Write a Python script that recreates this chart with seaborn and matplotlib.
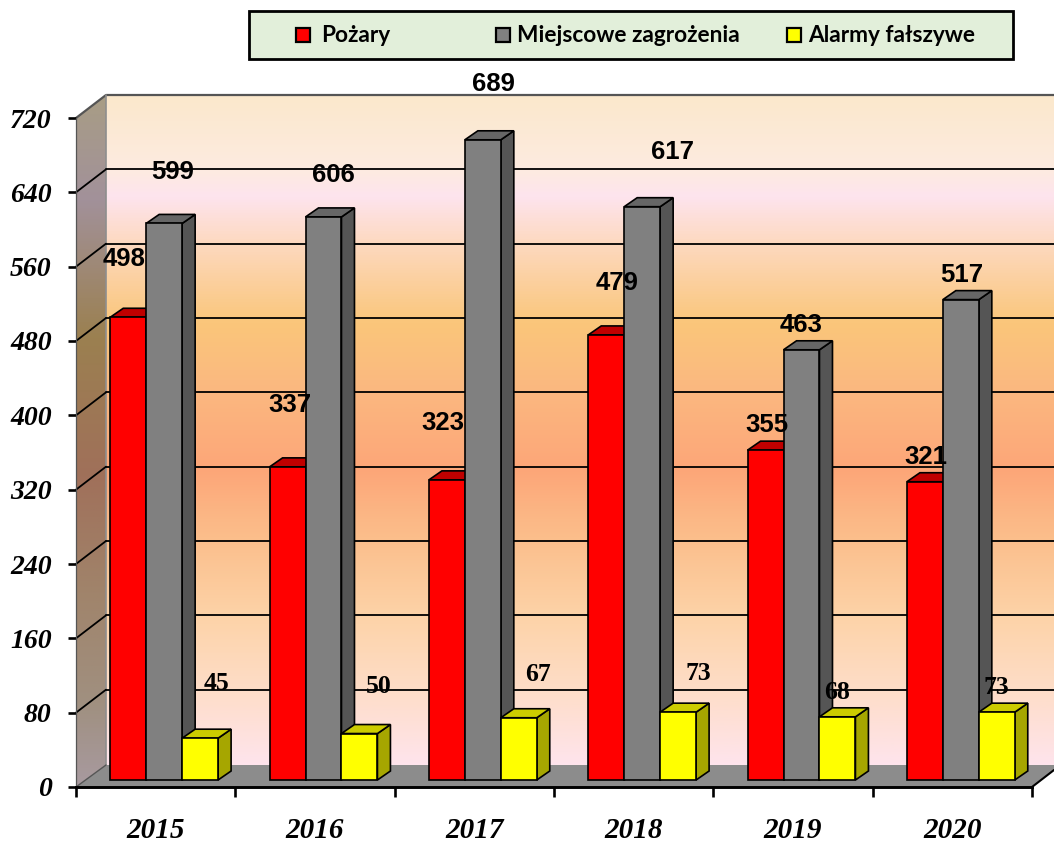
import numpy as np
import pandas as pd
import matplotlib
matplotlib.use("Agg")
import matplotlib.pyplot as plt
import seaborn as sns
from matplotlib.colors import LinearSegmentedColormap
from matplotlib.patches import Polygon, Rectangle
from matplotlib.transforms import Affine2D, IdentityTransform

years = ["2015", "2016", "2017", "2018", "2019", "2020"]
series_names = ["Pożary", "Miejscowe zagrożenia", "Alarmy fałszywe"]
pozary = [498, 337, 323, 479, 355, 321]
miejscowe = [599, 606, 689, 617, 463, 517]
alarmy = [45, 50, 67, 73, 68, 73]
yticks = [0, 80, 160, 240, 320, 400, 480, 560, 640, 720]

front_colors = ["#FF0000", "#808080", "#FFFF00"]
top_colors = ["#C00000", "#666666", "#CCCC00"]
side_colors = ["#C00000", "#555555", "#A6A600"]

# pixel offsets of each value label from the top-centre of its bar
label_offsets = [
    [(-4, 58), (8, 51), (16, 55)],
    [(2, 62), (10, 42), (19, 47)],
    [(-4, 57), (11, 56), (19, 43)],
    [(11, 52), (30, 55), (20, 39)],
    [(1, 25), (0, 25), (0, 24)],
    [(1, 25), (1, 25), (0, 25)],
]

W, H = 1054, 843
sns.set_theme(style="white")
plt.rcParams["font.family"] = ["Liberation Sans", "DejaVu Sans"]
fig = plt.figure(figsize=(W / 100, H / 100), dpi=100, facecolor="white")

bg = fig.add_axes([0, 0, 1, 1], zorder=0)
bg.set_xlim(0, W)
bg.set_ylim(H, 0)
bg.axis("off")

wall_cmap = LinearSegmentedColormap.from_list("wall", [
    (0.00, "#FBE8CC"), (0.11, "#FDEBE0"), (0.15, "#FEE4EE"), (0.22, "#FDD9C0"),
    (0.34, "#FAC67A"), (0.44, "#FBB880"), (0.56, "#FDA678"), (0.66, "#FBBE8B"),
    (0.78, "#FDD3A8"), (0.89, "#FEDDC8"), (1.00, "#FEE4EC")])
side_cmap = LinearSegmentedColormap.from_list("side", [
    (0.00, "#A89D85"), (0.15, "#A2919A"), (0.35, "#9B8050"), (0.55, "#A0705A"),
    (0.72, "#A0846B"), (0.88, "#A09080"), (1.00, "#A89AA0")])
grad = np.linspace(0, 1, 512).reshape(-1, 1)
bg.imshow(grad, cmap=wall_cmap, extent=(106, W, 765, 95), aspect="auto", zorder=1, origin="upper")
side_poly = Polygon([(76, 118), (106, 95), (106, 765), (76, 787)], closed=True,
                    transform=bg.transData, facecolor="none")
side_im = bg.imshow(grad, cmap=side_cmap, extent=(76, 106, 787, 95), aspect="auto", zorder=1, origin="upper")
side_im.set_clip_path(side_poly)
bg.set_xlim(0, W)
bg.set_ylim(H, 0)
bg.add_patch(Polygon([(76, 787), (106, 765), (W, 765), (W, 770), (1032, 787)], closed=True,
                     facecolor="#8C8C8C", edgecolor="none", zorder=2))
bg.plot([76, 106, W], [118, 95, 95], color="#555555", lw=1.6, zorder=3)
bg.plot([106, 106], [95, 765], color="#8E8E8E", lw=1.2, zorder=3)
bg.plot([76, 106], [787, 765], color="#555555", lw=1, zorder=3)
bg.plot([1032, W], [787, 770], color="black", lw=1.5, zorder=3)

# main axes
ax = fig.add_axes([76 / W, 1 - 787 / H, (1032 - 76) / W, (787 - 118) / H], zorder=1)
ax.patch.set_alpha(0)

df = pd.DataFrame({
    "Rok": np.tile(years, 3),
    "Rodzaj": np.repeat(series_names, len(years)),
    "Liczba": pozary + miejscowe + alarmy,
})
sns.barplot(data=df, x="Rok", y="Liczba", hue="Rodzaj", hue_order=series_names,
            palette=front_colors, width=0.677, gap=0, saturation=1, legend=False,
            edgecolor="black", linewidth=1.2, ax=ax, zorder=5)
ax.set_xlim(-0.5, 5.5)
ax.set_ylim(0, 720)
ax.set_xlabel("")
ax.set_ylabel("")
ax.set_xticks(np.arange(-0.5, 6, 1))
ax.set_xticklabels([])
ax.set_yticks(yticks)
ax.set_yticklabels([str(t) for t in yticks])
for lab in ax.get_yticklabels():
    lab.set_fontfamily("Liberation Serif")
    lab.set_fontweight("bold")
    lab.set_fontstyle("italic")
    lab.set_fontsize(20)
    lab.set_color("black")
ax.tick_params(axis="y", length=6, width=1.9, pad=11.5, left=True, color="black")
ax.tick_params(axis="x", length=7, width=1.9, bottom=True, color="black")
for i, y in enumerate(years):
    ax.annotate(y, (i, 0), xycoords=ax.get_xaxis_transform(), xytext=(0, -43), textcoords="offset pixels",
                ha="center", va="center", family="Liberation Serif", weight="bold",
                style="italic", fontsize=21, color="black")
for s in ["top", "right"]:
    ax.spines[s].set_visible(False)
ax.spines["left"].set_color("#555555")
ax.spines["left"].set_linewidth(0.9)
ax.spines["bottom"].set_color("black")
ax.spines["bottom"].set_linewidth(2.1)
ax.spines["bottom"].set_zorder(4)

# gridlines on the back wall
fig.canvas.draw()
wall_shift = ax.transData + Affine2D().translate(30, 23)
for t in yticks[1:-1]:
    ax.plot([-0.5, 6.5], [t, t], color="black", lw=1.3, transform=wall_shift,
            clip_on=False, zorder=1)
    p0 = ax.transData.transform((-0.5, t))
    ax.plot([p0[0], p0[0] + 30], [p0[1], p0[1] + 23], color="black", lw=1.3,
            transform=IdentityTransform(), clip_on=False, zorder=1)

# bars: move onto the floor and add the depth faces
bar_shift = ax.transData + Affine2D().translate(8.5, 7)
dx, dy = 13, 9
n = len(years)
bars = [p for p in ax.patches if isinstance(p, Rectangle)][:3 * n]
for idx, bar in enumerate(bars):
    s_i, y_i = idx // n, idx % n
    bar.set_transform(bar_shift)
    bar.set_clip_on(False)
    bar.set_zorder(5 + s_i * 2 + 0.5)
    x0, w, h = bar.get_x(), bar.get_width(), bar.get_height()
    (xl, yb), (xr, yt) = bar_shift.transform([(x0, 0), (x0 + w, h)])
    side = Polygon([(xr, yb), (xr + dx, yb + dy), (xr + dx, yt + dy), (xr, yt)], closed=True,
                   facecolor=side_colors[s_i], edgecolor="black", lw=1.2,
                   transform=IdentityTransform(), clip_on=False, zorder=5 + s_i * 2)
    top = Polygon([(xl, yt), (xl + dx, yt + dy), (xr + dx, yt + dy), (xr, yt)], closed=True,
                  facecolor=top_colors[s_i], edgecolor="black", lw=1.2,
                  transform=IdentityTransform(), clip_on=False, zorder=5 + s_i * 2)
    ax.add_patch(side)
    ax.add_patch(top)
    off = label_offsets[y_i][s_i]
    val = int(round(h))
    if s_i < 2:
        kw = dict(family="Liberation Sans", weight="bold", fontsize=18.5)
    else:
        kw = dict(family="Liberation Serif", weight="bold", fontsize=18.5)
    ax.annotate(str(val), ((xl + xr) / 2, yt), xycoords=IdentityTransform(),
                xytext=off, textcoords="offset pixels", ha="center", va="center",
                color="black", zorder=20, annotation_clip=False, **kw)

# legend panel
bg2 = fig.add_axes([0, 0, 1, 1], zorder=3)
bg2.set_xlim(0, W)
bg2.set_ylim(H, 0)
bg2.axis("off")
bg2.add_patch(Rectangle((249, 11), 764, 48, facecolor="#E2EFDA", edgecolor="black", lw=2))
swatch_x = [296, 496, 787]
text_x = [321, 517, 808]
for sx, tx, name, col in zip(swatch_x, text_x, series_names, front_colors):
    bg2.add_patch(Rectangle((sx, 28), 14, 14, facecolor=col, edgecolor="black", lw=1.6))
    bg2.text(tx, 35.5, name, family="Lato", weight="bold", fontsize=16.3, ha="left", va="center", color="black")

fig.savefig("out.png", dpi=100)
